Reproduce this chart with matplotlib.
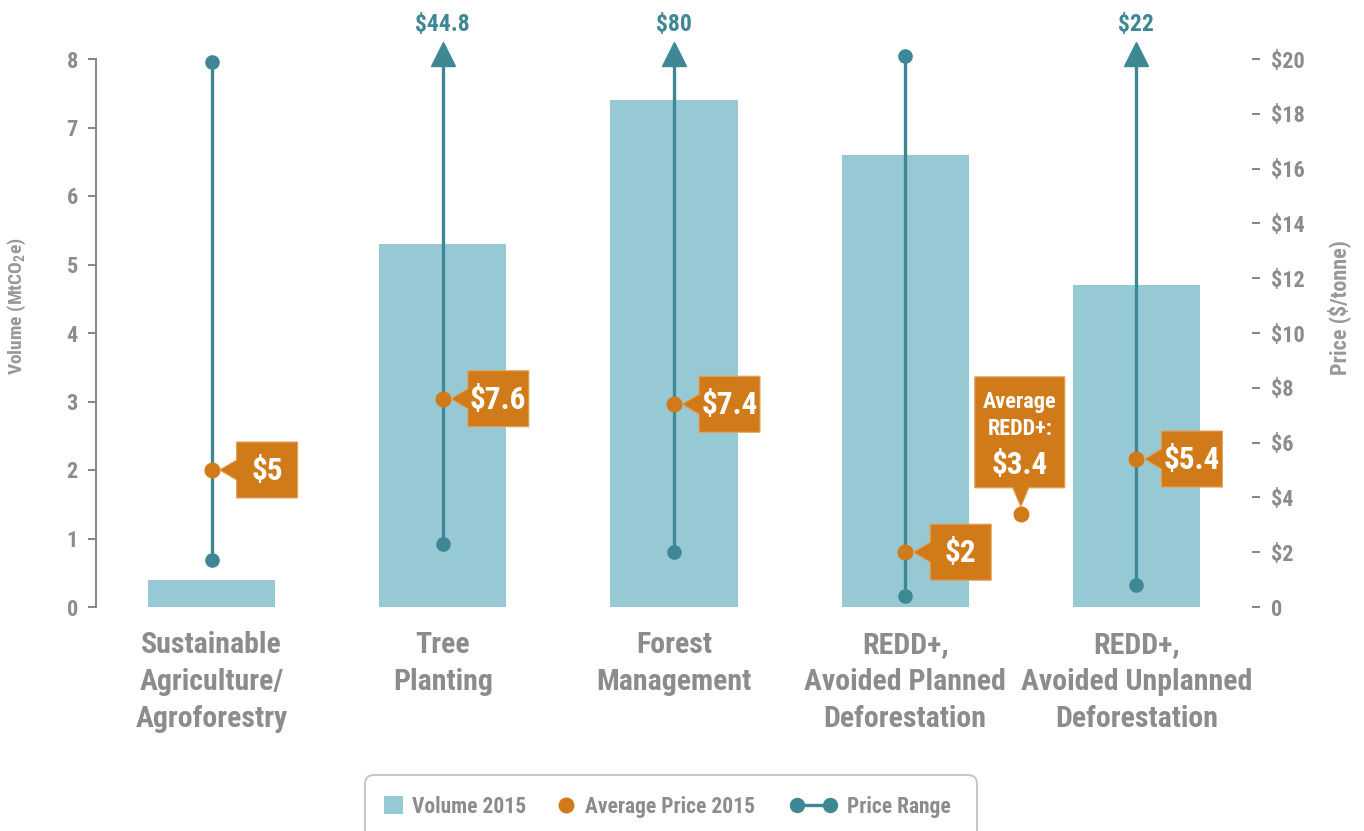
import matplotlib
matplotlib.use('Agg')
import matplotlib.pyplot as plt
import matplotlib.transforms as mtrans
from matplotlib import font_manager as fm
from matplotlib.patches import Polygon, Rectangle, FancyBboxPatch
from matplotlib.lines import Line2D

# pick a condensed bold face if one is installed, else Roboto
fonts = fm.fontManager.ttflist
cond = [f for f in fonts
        if ('Condensed' in f.name or 'Narrow' in f.name
            or f.stretch in ('condensed', 'semi-condensed', 'extra-condensed', 75, 87.5))
        and f.weight in ('bold', 700, 'semibold', 600, 'demibold')]
pref = ['Roboto', 'Noto Sans', 'Open Sans', 'DejaVu Sans', 'Liberation Sans']
cond.sort(key=lambda f: min([k for k, p in enumerate(pref) if f.name.startswith(p)] or [99]))
if cond:
    plt.rcParams['font.family'] = [cond[0].name, 'DejaVu Sans']
    plt.rcParams['font.stretch'] = cond[0].stretch
else:
    plt.rcParams['font.family'] = ['Roboto', 'DejaVu Sans']
plt.rcParams['font.weight'] = 'bold'
plt.rcParams['axes.labelweight'] = 'bold'

# ---------------- data ----------------
categories = ['Sustainable\nAgriculture/\nAgroforestry', 'Tree\nPlanting',
              'Forest\nManagement', 'REDD+,\nAvoided Planned\nDeforestation',
              'REDD+,\nAvoided Unplanned\nDeforestation']
volume = [0.4, 5.3, 7.4, 6.6, 4.7]
price_low = [1.7, 2.3, 2.0, 0.4, 0.8]
price_high = [19.9, 44.8, 80, 20.1, 22]
avg_price = [5.0, 7.6, 7.4, 2.0, 5.4]
avg_labels = ['$5', '$7.6', '$7.4', '$2', '$5.4']
redd_avg = 3.4
redd_x = 3.5
vol_ticks = [0, 1, 2, 3, 4, 5, 6, 7, 8]
price_ticks = [0, 2, 4, 6, 8, 10, 12, 14, 16, 18, 20]
price_ticklabels = ['0', '$2', '$4', '$6', '$8', '$10', '$12', '$14', '$16', '$18', '$20']
legend_labels = ['Volume 2015', 'Average Price 2015', 'Price Range']

bar_col = '#97c9d4'
teal = '#3e8795'
orange = '#d17a1a'
grey = '#8c8c8e'
spine_col = '#858585'

fig = plt.figure(figsize=(13.64, 8.31), dpi=100)
ax = fig.add_axes([96/1364, 1-607/831, (1252-96)/1364, (607-59)/831])
ax2 = ax.twinx()

x = list(range(len(categories)))
ax.bar(x, volume, width=0.55, color=bar_col, zorder=1)
ax.set_xlim(-0.5, 4.5)
ax.set_ylim(0, 8)
ax.set_yticks(vol_ticks)
ax2.set_ylim(0, 20)
ax2.set_yticks(price_ticks)
ax2.set_yticklabels(price_ticklabels)

for s in ['top', 'right', 'bottom']:
    ax.spines[s].set_visible(False)
    ax2.spines[s].set_visible(False)
ax2.spines['left'].set_visible(False)
ax.spines['left'].set_color(spine_col)
ax2.spines['right'].set_color(spine_col)
ax.spines['left'].set_linewidth(1.4)
ax2.spines['right'].set_linewidth(1.4)

ax.tick_params(axis='y', length=5.5, width=1.4, color=spine_col, labelcolor=grey,
               labelsize=16, pad=7.5)
ax2.tick_params(axis='y', length=5.5, width=1.4, color=spine_col, labelcolor=grey,
                labelsize=16, pad=8)
ax.set_xticks(x)
ax.set_xticklabels(categories, fontsize=21.5, color=grey, linespacing=1.42)
ax.tick_params(axis='x', length=0, pad=17)

ax.set_ylabel('Volume (MtCO$_\\mathregular{2}$e)', fontsize=14, color='#98989a')
ax2.set_ylabel('Price ($/tonne)', fontsize=16, color='#98989a')
ax.yaxis.set_label_coords(-0.059, 0.55)
ax2.yaxis.set_label_coords(1.065, 0.546)

top = 20.55
for i in x:
    hi = price_high[i]
    if hi > 20.5:
        ax2.plot([i, i], [price_low[i], top - 0.6], color=teal, lw=2.4, zorder=3,
                 clip_on=False, solid_capstyle='butt')
        ax2.plot(i, top - 0.35, marker='^', ms=17, color=teal, zorder=3, clip_on=False)
        ax2.text(i, 21.25, '$%g' % hi, ha='center', va='center', color=teal,
                 fontsize=17, clip_on=False)
        ax2.plot(i, price_low[i], 'o', color=teal, ms=9.5, zorder=4)
    else:
        ax2.plot([i, i], [price_low[i], hi], color=teal, lw=2.4, zorder=3,
                 marker='o', ms=9.5, clip_on=False)


def px_trans(xv, yv):
    return (mtrans.Affine2D().scale(1 / 100.) + fig.dpi_scale_trans +
            mtrans.ScaledTranslation(xv, yv, ax2.transData))


# side callouts
for i in x:
    t = px_trans(i, avg_price[i])
    verts = [(8, 0), (25, -10), (25, -28), (86, -28), (86, 28), (25, 28), (25, 10)]
    ax2.add_patch(Polygon(verts, closed=True, transform=t, facecolor=orange,
                          edgecolor='#e3a25e', lw=0.8, zorder=6, clip_on=False))
    ax2.text(55.5, -1, avg_labels[i], transform=t, ha='center', va='center',
             color='white', fontsize=22.5, zorder=7)
    ax2.plot(i, avg_price[i], 'o', color=orange, ms=10.5, zorder=5)

# REDD+ average callout
t = px_trans(redd_x, redd_avg)
verts = [(0, 7), (-8, 26), (-46, 26), (-46, 137), (44, 137), (44, 26), (8, 26)]
ax2.add_patch(Polygon(verts, closed=True, transform=t, facecolor=orange,
                      edgecolor='#e3a25e', lw=0.8, zorder=6, clip_on=False))
ax2.text(-1, 112, 'Average', transform=t, ha='center', va='center', color='white',
         fontsize=16, zorder=7)
ax2.text(-1, 85, 'REDD+:', transform=t, ha='center', va='center', color='white',
         fontsize=16, zorder=7)
ax2.text(-1, 49, '$3.4', transform=t, ha='center', va='center', color='white',
         fontsize=22.5, zorder=7)
ax2.plot(redd_x, redd_avg, 'o', color=orange, ms=10.5, zorder=5)

# legend, laid out by hand in pixel units (y down from the top)
lt = mtrans.Affine2D().scale(1/1364, -1/831).translate(0, 1) + fig.transFigure
fig.patches.append(FancyBboxPatch((365, 775), 612, 75, boxstyle='round,pad=0,rounding_size=9',
                                  transform=lt, facecolor='white', edgecolor='#c6c6c6',
                                  lw=1.4, figure=fig))
fig.patches.append(Rectangle((384, 796), 19, 18, transform=lt, facecolor=bar_col,
                             edgecolor='none', figure=fig))
fig.lines.append(Line2D([566], [805], transform=lt, marker='o', ls='none', color=orange,
                        ms=10.5, figure=fig))
fig.lines.append(Line2D([797, 830], [805, 805], transform=lt, marker='o', color=teal,
                        lw=2.4, ms=10, figure=fig))
for lx, lab in zip([412, 585, 847], legend_labels):
    fig.text(lx, 813, lab, transform=lt, ha='left', va='baseline', color=grey,
             fontsize=15.5)

fig.savefig('out.png', dpi=100)
